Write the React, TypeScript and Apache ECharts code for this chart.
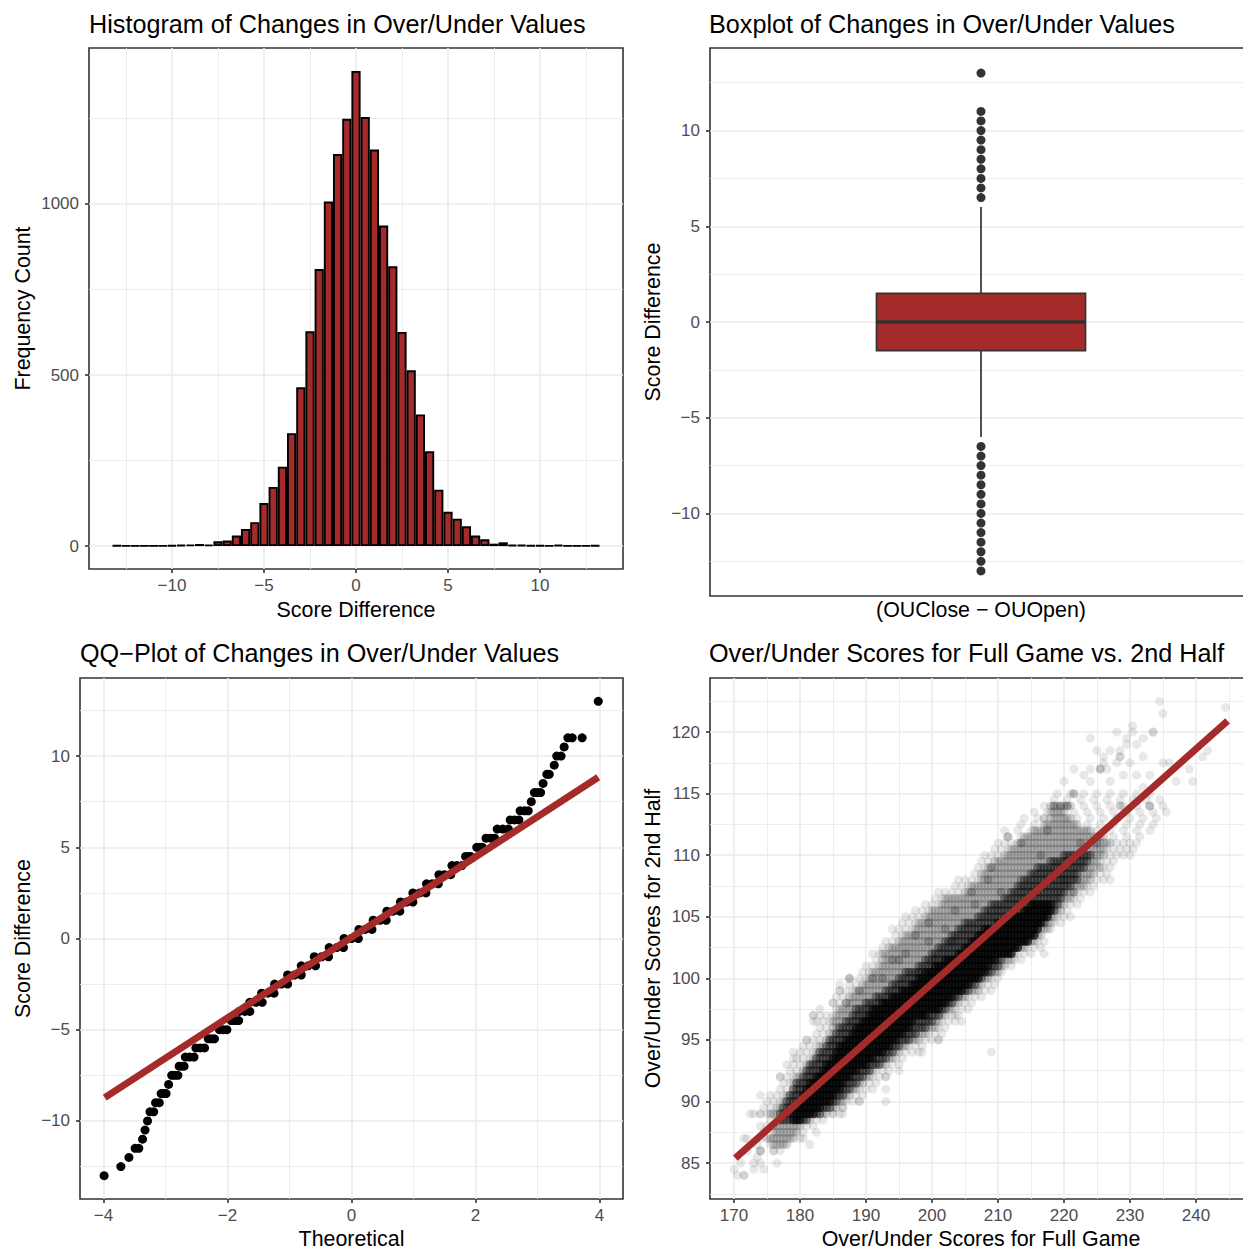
import React, { useEffect, useRef } from "react";
import * as echarts from "echarts";

const BRICK = "#A52A2A";
const FONT = "Liberation Sans";

// Panel 1: histogram
const histBins = [-13,-12.5,-12,-11.5,-11,-10.5,-10,-9.5,-9,-8.5,-8,-7.5,-7,-6.5,-6,-5.5,-5,-4.5,-4,-3.5,-3,-2.5,-2,-1.5,-1,-0.5,0,0.5,1,1.5,2,2.5,3,3.5,4,4.5,5,5.5,6,6.5,7,7.5,8,8.5,9,9.5,10,10.5,11,11.5,12,12.5,13];
const histCounts = [2,1,1,1,1,1,2,3,4,6,4,14,16,31,50,70,126,173,232,330,464,628,810,1007,1146,1249,1389,1254,1159,937,818,626,514,385,277,165,100,80,58,31,20,7,11,3,3,2,2,1,3,1,1,1,2];

// Panel 2: boxplot
const boxStats = [[0, -6, -1.5, 0, 1.5, 6]];
const boxOutliers = [13,11,10.5,10,9.5,9,8.5,8,7.5,7,6.5,-6.5,-7,-7.5,-8,-8.5,-9,-9.5,-10,-10.5,-11,-11.5,-12,-12.5,-13];

// Panel 3: QQ plot, sample level followed by its theoretical positions
const qqRuns: number[][] = [
  [-13,-3.99],[-12.5,-3.72],[-12,-3.59],[-11.5,-3.49,-3.43],[-11,-3.37],[-10.5,-3.33],[-10,-3.29],
  [-9.5,-3.25,-3.19],[-9,-3.16,-3.10],[-8.5,-3.07,-3.03,-2.99],[-8,-2.95],[-7.5,-2.90,-2.85,-2.80],
  [-7,-2.78,-2.74,-2.70],[-6.5,-2.68,-2.61,-2.54],[-6,-2.51,-2.44,-2.37],[-5.5,-2.31,-2.26,-2.21],
  [-5,-2.13,-2.07,-2.01],[-4.5,-1.94,-1.88,-1.82],[-4,-1.81,-1.72,-1.64],[-3.5,-1.64,-1.54,-1.44],
  [-3,-1.45,-1.35,-1.25],[-2.5,-1.24,-1.13,-1.03],[-2,-1.03,-0.92,-0.81],[-1.5,-0.81,-0.70,-0.58],
  [-1,-0.60,-0.48,-0.37],[-0.5,-0.36,-0.24,-0.13],[0,-0.12,0,0.11],[0.5,0.12,0.22,0.33],
  [1,0.35,0.46,0.56],[1.5,0.57,0.67,0.78],[2,0.79,0.89,0.99],[2.5,0.99,1.10,1.20],[3,1.21,1.30,1.40],
  [3.5,1.41,1.50,1.60],[4,1.62,1.70,1.78],[4.5,1.84,1.88,1.92],[5,2.02,2.07,2.11],[5.5,2.17,2.24,2.31],
  [6,2.35,2.44,2.53],[6.5,2.56,2.63,2.70],[7,2.72,2.79,2.85],[7.5,2.90],[8,2.95,3.00,3.05],[8.5,3.09],
  [9,3.15,3.19],[9.5,3.27],[10,3.31,3.38],[10.5,3.43],[11,3.49,3.56,3.72],[13,3.98],
];
const qqLine = [[-3.98,-8.72],[3.98,8.84]];

// Panel 4: occupied cells of the half-unit lattice, row by row
// [y, outerFrom, midFrom, coreFrom, coreTo, midTo, outerTo], 0 = band absent in that row
const cloudRows: number[][] = [
  [86,172,0,0,0,0,177.5],[86.5,173,176,0,0,178,179],[87,172,175,0,0,179,181.5],[87.5,174,176,0,0,179.5,182],
  [88,173.5,176,0,0,180,182.5],[88.5,174.5,176.5,179,180,181.5,183.5],[89,172.5,175.5,179,182,184,186.5],
  [89.5,174,176.5,179.5,183,185.5,187],[90,174.5,177.5,180,184.5,186.5,189],[90.5,175.5,178,180.5,185,187.5,190],
  [91,177,179,181,186,188.5,191.5],[91.5,176.5,179,181.5,186.5,189.5,192],[92,176.5,179.5,182.5,187.5,190.5,193],
  [92.5,178,180.5,183.5,188.5,191,193.5],[93,178,181,184,190,193,195],[93.5,178.5,182,185,191,194,196],
  [94,179,182.5,185.5,192.5,195,198],[94.5,180,183,186,193.5,196,198.5],[95,180.5,184,187,194.5,198,201],
  [95.5,181.5,184.5,188,195.5,199,201.5],[96,183,185,188.5,196.5,200.5,202],[96.5,182,185,189.5,197,201,203.5],
  [97,181.5,185.5,190.5,199,202,204.5],[97.5,184.5,186,191,201,203,205.5],[98,185,187,192.5,202,204,206],
  [98.5,185,187.5,194,203,205,208],[99,186,188.5,195.5,204.5,207,209.5],[99.5,187,189.5,197,205.5,207.5,210],
  [100,188.5,190.5,198,207,208.5,210],[100.5,189,191,199,208,210,211],[101,190,192,200.5,208.5,211,212.5],
  [101.5,190.5,192.5,202,209.5,212,213.5],[102,191,192.5,204,212,212.5,215],[102.5,192,193.5,205,213,214,216.5],
  [103,192.5,195,206,214.5,215.5,217.5],[103.5,193.5,196,207,215.5,216.5,217],[104,194,197.5,208,216,217.5,218],
  [104.5,195,198,210,216.5,218,219.5],[105,195.5,199,212,217.5,218.5,221],[105.5,197,200,214,218,219.5,221],
  [106,199,201.5,215,218,220,222],[106.5,200,202,0,0,221,222.5],[107,201,205,0,0,221.5,224],
  [107.5,203,206,0,0,223,225],[108,204,207.5,0,0,224,227],[108.5,205.5,207.5,0,0,224.5,227],
  [109,207,208.5,0,0,224.5,227.5],[109.5,207,209.5,0,0,225,228],[110,207.5,211,0,0,226,230.5],
  [110.5,209,212,0,0,226,231],[111,210,213,0,0,227,231],[111.5,211,214,0,0,226,233],[112,211,216,0,0,224,234],
  [112.5,213,217,0,0,222,234],[113,213.5,218,0,0,221,234.5],[113.5,215,218,0,0,220,235.5],[114,217,218,0,0,221,235.5],
  [114.5,217.5,0,0,0,0,235],[115,219,0,0,0,0,234],
];
// [y, from, to] of the darker shoulder round the core
const cloudShoulders: number[][] = [
  [88.5,177,181],[89,177,183],[89.5,177.5,184.5],[90,178,185.5],[90.5,178.5,186.5],[91,179,187.5],[91.5,179.5,188.5],
  [92,180.5,189.5],[92.5,181,190.5],[93,181.5,192],[93.5,182.5,193],[94,183,194],[94.5,184,195],[95,184.5,196.5],
  [95.5,185.5,197.5],[96,186,199],[96.5,187,200],[97,188,201],[97.5,188.5,202],[98,190,203],[98.5,191.5,204],
  [99,193,205.5],[99.5,194,206.5],[100,195,207.5],[100.5,196,209],[101,198,210],[101.5,199,210.5],[102,200,211.5],
  [102.5,201,212.5],[103,202,214],[103.5,203,215],[104,204,216],[104.5,205,217],[105,207,217.5],[105.5,208,218.5],
  [106,209,219],[106.5,211,219.5],[107,212,220],[107.5,213,221],[108,214,222],[108.5,215,222],[109,216,223],
  [109.5,218,223.5],[110,220,224],
];
const cloudStrays = [
  [170,84.5],[170.5,84],[171.5,84],[171.5,84],[173,84.5],[174.5,84.5],[171,85],[176.5,85],[173,85],[174,85],[173.5,85.5],
  [174,86],[174,86],[177,86],[176,86],[181.5,86.5],[171.5,87],[172.5,89],[174,89],[174,90.5],[175.5,90.5],[177,92],
  [182.5,87.5],[180.5,87],[186.5,89],[186.5,89.5],[185,89],[189,90],[193,90],[193,91],[193,92],[195,92.5],[209,94],
  [198.5,94],[204.5,96.5],[203.5,97],[201,95],[187.5,100],[186,99.5],[186,99],[182,96.5],[182,97],[183,97.5],[185,98],
  [179,93.5],[181,95],[217,102],
  [234.5,122.5],[235,121.5],[244.5,122],[230.4,120.5],[228,120],[230.4,120],[233.5,120],[233.5,120],[224,119.5],
  [229.5,119.5],[232,119.5],[231,119],[229.5,119],[225,118.5],[227,118.5],[228.5,118.5],[241.8,118.5],[241,118],
  [226,118],[228.5,118],[228.5,118],[232,118],[228,117.5],[230,117.5],[226,117.5],[235,117.5],[236,117.5],
  [225.5,117],[225.5,117],[225.5,117],[221.5,117],[224,117],[226.5,117],[239,117],[237,116],[239.5,116],[220,116],
  [223,116.5],[224,116],[231,116.5],[233,116.5],[229,116.5],[227,116],[232,115.5],[221.5,115],[221.5,115],[221.5,115],
];
// darker speckles seen inside the lighter part of the cloud
const cloudClumps = [
  [208.5,108],[203.5,105.5],[199.5,104.5],[199.5,103],[197.5,103.5],[196,102],[191,100],[189,99],[187,98],[187.5,100],
  [202,104],[206,107],[209,109],[192.5,100],[194,101.5],[195,101.5],[198,100.5],[200.5,101.5],[203,103],[206.5,106],
  [210.5,107],[213.5,108],[213.5,111],[217,113],[211.5,111.5],[215.5,112],[217.5,112],[218.5,114],[219.5,114],[220.5,114],
  [216.5,110],[225.5,109],[233,114],[228.5,114],[222.5,111],[225,111],[220,108],[221.5,107],
];
const cloudLine = [[170.2,85.4],[244.8,120.9]];

// Tick values
const hist = { xMajor: [-10,-5,0,5,10], xMinor: [-12.5,-7.5,-2.5,2.5,7.5,12.5], yMajor: [0,500,1000], yMinor: [250,750,1250] };
const box = { yMajor: [-10,-5,0,5,10], yMinor: [-12.5,-7.5,-2.5,2.5,7.5,12.5] };
const qq = { xMajor: [-4,-2,0,2,4], xMinor: [-3,-1,1,3], yMajor: [-10,-5,0,5,10], yMinor: [-12.5,-7.5,-2.5,2.5,7.5,12.5] };
const cloud = { xMajor: [170,180,190,200,210,220,230,240], xMinor: [175,185,195,205,215,225,235,245], yMajor: [85,90,95,100,105,110,115,120], yMinor: [82.5,87.5,92.5,97.5,102.5,107.5,112.5,117.5,122.5] };

const titles = [
  { text: "Histogram of Changes in Over/Under Values", left: 84, top: 6 },
  { text: "Boxplot of Changes in Over/Under Values", left: 704, top: 6 },
  { text: "QQ\u2212Plot of Changes in Over/Under Values", left: 75, top: 635 },
  { text: "Over/Under Scores for Full Game vs. 2nd Half", left: 704, top: 635 },
];

const fmt = (v: number) => String(v).replace("-", "\u2212");

function axisPair(kind: "x" | "y", gridIndex: number, min: number, max: number, major: number[] | null, minor: number[] | null, name: string, nameGap: number) {
  const position = kind === "x" ? "bottom" : "left";
  const main: any = {
    type: "value", gridIndex, min, max, name, nameGap, nameLocation: "middle", position,
    nameTextStyle: { color: "#000", fontSize: 21.4, fontFamily: FONT },
    axisLine: { show: false, onZero: false },
    axisTick: major ? { show: true, length: 4, customValues: major, lineStyle: { color: "#333333", width: 1.6 } } : { show: false },
    axisLabel: major
      ? { show: true, customValues: major, formatter: fmt, color: "#4D4D4D", fontSize: 17, fontFamily: FONT, margin: kind === "x" ? 8 : 10 }
      : { show: false },
    splitLine: { show: !!major, lineStyle: { color: "#EBEBEB", width: 1.6 } },
  };
  const thin: any = {
    type: "value", gridIndex, min, max, position,
    axisLine: { show: false, onZero: false }, axisLabel: { show: false },
    axisTick: minor ? { show: false, customValues: minor } : { show: false },
    splitLine: { show: !!minor, lineStyle: { color: "#EBEBEB", width: 0.9 } },
  };
  return [thin, main];
}

function buildCloud() {
  const outer: number[][] = [];
  const mid: number[][] = [];
  const core: number[][] = [];
  const shoulder: number[][] = [];
  for (const [y, oL, mL, cL, cR, mR, oR] of cloudRows) {
    const inMid = (x: number) => mL > 0 && x >= mL && x <= mR;
    const inCore = (x: number) => cL > 0 && x >= cL && x <= cR;
    const stagger = (y * 2) % 2 === 1 ? 0.5 : 0;
    const step = y >= 111.5 || y < 88 ? 2 : 1;
    for (let x = Math.ceil(oL) + stagger; x <= oR; x += step) if (!inMid(x)) outer.push([x, y]);
    if (mL > 0) for (let x = mL; x <= mR; x += 0.5) if (!inCore(x)) mid.push([x, y]);
    if (cL > 0) for (let x = cL; x <= cR; x += 0.5) core.push([x, y]);
    const sh = cloudShoulders.find((s) => s[0] === y);
    if (sh) for (let x = sh[1]; x <= sh[2]; x += 0.5) if (!inCore(x)) shoulder.push([x, y]);
  }
  return { outer: outer.concat(cloudStrays), mid, core, shoulder };
}

export default function App() {
  const ref = useRef<HTMLDivElement>(null);
  useEffect(() => {
    document.body.style.margin = "0";
    const chart = echarts.init(ref.current!, null, { renderer: "svg" });
    const c = buildCloud();
    const qqPoints: number[][] = [];
    qqRuns.forEach(([y, ...xs]) => xs.forEach((x) => qqPoints.push([x, y])));

    const xAxes = [
      ...axisPair("x", 0, -14.51, 14.51, hist.xMajor, hist.xMinor, "Score Difference", 30),
      ...axisPair("x", 1, -0.9725, 0.9725, null, null, "(OUClose \u2212 OUOpen)", 3),
      ...axisPair("x", 2, -4.379, 4.379, qq.xMajor, qq.xMinor, "Theoretical", 29),
      ...axisPair("x", 3, 166.36, 248.5, cloud.xMajor, cloud.xMinor, "Over/Under Scores for Full Game", 29),
    ];
    const yAxes = [
      ...axisPair("y", 0, -67, 1456, hist.yMajor, hist.yMinor, "Frequency Count", 56),
      ...axisPair("y", 1, -14.31, 14.31, box.yMajor, box.yMinor, "Score Difference", 47),
      ...axisPair("y", 2, -14.28, 14.28, qq.yMajor, qq.yMinor, "Score Difference", 47),
      ...axisPair("y", 3, 82.08, 124.39, cloud.yMajor, cloud.yMinor, "Over/Under Scores for 2nd Half", 47),
    ];
    const cloudSeries = (data: number[][], opacity: number) => ({
      type: "scatter", xAxisIndex: 7, yAxisIndex: 7, data, symbolSize: 9, silent: true,
      itemStyle: { color: "#000", opacity, borderWidth: 0 },
    });

    chart.setOption({
      animation: false,
      backgroundColor: "#fff",
      textStyle: { fontFamily: FONT },
      title: titles.map((t) => ({ ...t, textStyle: { color: "#000", fontSize: 25.2, fontWeight: "normal", fontFamily: FONT } })),
      grid: [
        { left: 89, top: 48, width: 534, height: 521 },
        { left: 710, top: 48, width: 542, height: 548 },
        { left: 80, top: 678, width: 543, height: 521 },
        { left: 710, top: 678, width: 542, height: 521 },
      ].map((g) => ({ ...g, show: true, borderColor: "#333333", borderWidth: 1.6, backgroundColor: "transparent", outerBoundsMode: "none" })),
      xAxis: xAxes,
      yAxis: yAxes,
      series: [
        {
          type: "bar", xAxisIndex: 1, yAxisIndex: 1, barWidth: 9.2,
          data: histBins.map((x, i) => [x, histCounts[i]]),
          itemStyle: { color: BRICK, borderColor: "#000", borderWidth: 1.9 },
        },
        {
          type: "custom", xAxisIndex: 3, yAxisIndex: 3, data: boxStats, silent: true,
          encode: { x: 0, y: [1, 2, 3, 4, 5] },
          renderItem: (_p: any, api: any) => {
            const x = api.value(0);
            const halfWidth = 0.375;
            const at = (dx: number, v: number) => api.coord([x + dx, v]);
            const line = (a: number[], b: number[], width: number) => ({
              type: "line", shape: { x1: a[0], y1: a[1], x2: b[0], y2: b[1] }, style: { stroke: "#333333", lineWidth: width },
            });
            const tl = at(-halfWidth, api.value(4));
            const br = at(halfWidth, api.value(2));
            return {
              type: "group",
              children: [
                line(at(0, api.value(1)), at(0, api.value(2)), 1.7),
                line(at(0, api.value(4)), at(0, api.value(5)), 1.7),
                { type: "rect", shape: { x: tl[0], y: tl[1], width: br[0] - tl[0], height: br[1] - tl[1] }, style: { fill: BRICK, stroke: "#333333", lineWidth: 1.7 } },
                line(at(-halfWidth, api.value(3)), at(halfWidth, api.value(3)), 3.6),
              ],
            };
          },
        },
        {
          type: "scatter", xAxisIndex: 3, yAxisIndex: 3, symbolSize: 9, silent: true,
          data: boxOutliers.map((v) => [0, v]), itemStyle: { color: "#333333", opacity: 1 },
        },
        {
          type: "scatter", xAxisIndex: 5, yAxisIndex: 5, symbolSize: 9, silent: true,
          data: qqPoints, itemStyle: { color: "#000", opacity: 1 },
        },
        {
          type: "line", xAxisIndex: 5, yAxisIndex: 5, data: qqLine, showSymbol: false, symbol: "none", silent: true, z: 4,
          lineStyle: { color: BRICK, width: 7, cap: "butt" },
        },
        cloudSeries(c.outer, 0.09),
        cloudSeries(c.mid, 0.16),
        cloudSeries(c.shoulder, 0.3),
        cloudSeries(cloudClumps, 0.18),
        cloudSeries(c.core, 0.7),
        {
          type: "line", xAxisIndex: 7, yAxisIndex: 7, data: cloudLine, showSymbol: false, symbol: "none", silent: true, z: 4,
          lineStyle: { color: BRICK, width: 7, cap: "butt" },
        },
      ],
    });
    return () => chart.dispose();
  }, []);
  return <div ref={ref} style={{ position: "absolute", left: 0, top: 0, width: 1243, height: 1249, overflow: "hidden" }} />;
}
